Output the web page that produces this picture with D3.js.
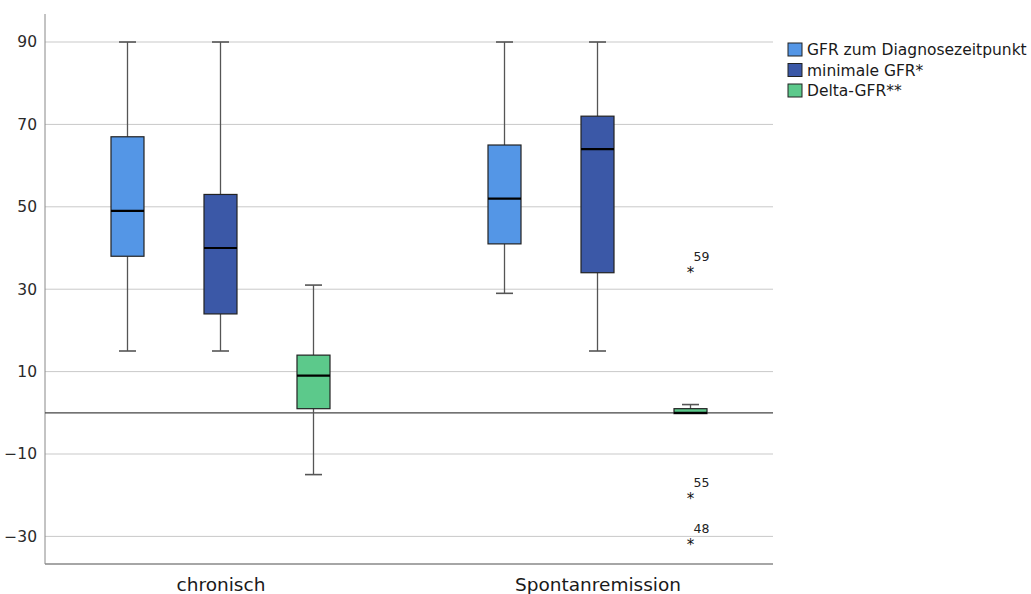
<!DOCTYPE html>
<html>
<head>
<meta charset="utf-8">
<script src="https://cdn.jsdelivr.net/npm/d3@7"></script>
<style>
  body { margin: 0; background: #fff; }
  text { font-family: "DejaVu Sans", sans-serif; }
</style>
</head>
<body>
<div class="container"></div>
<script>
const categories = ["chronisch", "Spontanremission"];
const series = ["GFR zum Diagnosezeitpunkt", "minimale GFR*", "Delta-GFR**"];
const colors = ["#5496e6", "#3b58a7", "#5cc98b"];

// one value per box, order: chronisch x series, then Spontanremission x series
const lowWhisker = [15, 15, -15, 29, 15, -0.2];
const q1 = [38, 24, 1, 41, 34, -0.2];
const median = [49, 40, 9, 52, 64, 0];
const q3 = [67, 53, 14, 65, 72, 1];
const highWhisker = [90, 90, 31, 90, 90, 2];

const outlierValues = [35, -20, -31];
const outlierIds = ["59", "55", "48"];
const outlierCategory = ["Spontanremission", "Spontanremission", "Spontanremission"];
const outlierSeries = ["Delta-GFR**", "Delta-GFR**", "Delta-GFR**"];

const yTicks = [-30, -10, 10, 30, 50, 70, 90];

const w = 1031;
const h = 594;
const plotLeft = 45, plotRight = 773, plotTop = 14, plotBottom = 564;

const svg = d3.select(".container")
  .append("svg")
  .attr("width", w)
  .attr("height", h);

const yScale = d3.scaleLinear()
  .domain([-36.7, 96.8])
  .range([plotBottom, plotTop]);

const xScale = d3.scalePoint()
  .domain(categories)
  .range([plotLeft, plotRight])
  .padding(0.4655);

const offset = d3.scaleBand()
  .domain(series)
  .range([-139.5, 139.5]);

const boxW = 33;
const capW = 17;

// gridlines
svg.append("g")
  .selectAll("line")
  .data(yTicks)
  .join("line")
  .attr("x1", plotLeft).attr("x2", plotRight)
  .attr("y1", d => yScale(d)).attr("y2", d => yScale(d))
  .attr("stroke", "#c9c9c9")
  .attr("stroke-width", 1);

// y axis
const yAxis = d3.axisLeft(yScale)
  .tickValues(yTicks)
  .tickSize(0)
  .tickPadding(8)
  .tickFormat(d => d < 0 ? "\u2212" + Math.abs(d) : d);

const gy = svg.append("g")
  .attr("transform", "translate(" + plotLeft + ",0)")
  .call(yAxis);
gy.select(".domain").remove();
gy.selectAll("text")
  .attr("font-size", 15.5)
  .attr("fill", "#2a2a2a")
  .style("font-family", "DejaVu Sans, sans-serif");

svg.append("line")
  .attr("x1", plotLeft).attr("x2", plotLeft)
  .attr("y1", plotTop).attr("y2", plotBottom)
  .attr("stroke", "#888");

// x axis
const xAxis = d3.axisBottom(xScale).tickSize(0).tickPadding(14);
const gx = svg.append("g")
  .attr("transform", "translate(0," + plotBottom + ")")
  .call(xAxis);
gx.select(".domain")
  .attr("d", "M" + plotLeft + ",0H" + plotRight)
  .attr("stroke", "#888")
  .attr("stroke-width", 1.5);
gx.selectAll("text")
  .attr("font-size", 18.5)
  .attr("fill", "#1a1a1a")
  .style("font-family", "DejaVu Sans, sans-serif");

// zero line
svg.append("line")
  .attr("x1", plotLeft).attr("x2", plotRight)
  .attr("y1", yScale(0)).attr("y2", yScale(0))
  .attr("stroke", "#444")
  .attr("stroke-width", 1.2);

// boxes
const boxes = [];
categories.forEach((c, ci) => {
  series.forEach((s, si) => {
    const i = ci * series.length + si;
    boxes.push({
      cx: xScale(c) + offset(s) + offset.bandwidth() / 2,
      color: colors[si],
      lo: lowWhisker[i], q1: q1[i], med: median[i], q3: q3[i], hi: highWhisker[i]
    });
  });
});

const g = svg.append("g").selectAll("g")
  .data(boxes)
  .join("g");

g.append("line")
  .attr("x1", d => d.cx).attr("x2", d => d.cx)
  .attr("y1", d => yScale(d.hi)).attr("y2", d => yScale(d.q3))
  .attr("stroke", "#555").attr("stroke-width", 1.3);
g.append("line")
  .attr("x1", d => d.cx).attr("x2", d => d.cx)
  .attr("y1", d => yScale(d.q1)).attr("y2", d => yScale(d.lo))
  .attr("stroke", "#555").attr("stroke-width", 1.3);
g.append("line")
  .attr("x1", d => d.cx - capW / 2).attr("x2", d => d.cx + capW / 2)
  .attr("y1", d => yScale(d.hi)).attr("y2", d => yScale(d.hi))
  .attr("stroke", "#555").attr("stroke-width", 1.6);
g.filter(d => d.lo < d.q1).append("line")
  .attr("x1", d => d.cx - capW / 2).attr("x2", d => d.cx + capW / 2)
  .attr("y1", d => yScale(d.lo)).attr("y2", d => yScale(d.lo))
  .attr("stroke", "#555").attr("stroke-width", 1.6);
g.append("rect")
  .attr("x", d => d.cx - boxW / 2)
  .attr("width", boxW)
  .attr("y", d => yScale(d.q3))
  .attr("height", d => yScale(d.q1) - yScale(d.q3))
  .attr("fill", d => d.color)
  .attr("stroke", "#222")
  .attr("stroke-width", 1.2);
g.append("line")
  .attr("x1", d => d.cx - boxW / 2).attr("x2", d => d.cx + boxW / 2)
  .attr("y1", d => yScale(d.med)).attr("y2", d => yScale(d.med))
  .attr("stroke", "#000").attr("stroke-width", 2.2);

// outliers
const outliers = outlierValues.map((v, i) => ({
  v: v, id: outlierIds[i],
  cx: xScale(outlierCategory[i]) + offset(outlierSeries[i]) + offset.bandwidth() / 2
}));
const og = svg.append("g").selectAll("g")
  .data(outliers)
  .join("g");
og.append("text")
  .attr("x", d => d.cx)
  .attr("y", d => yScale(d.v) + 9)
  .attr("text-anchor", "middle")
  .attr("font-size", 15)
  .attr("fill", "#111")
  .text("*");
og.append("text")
  .attr("x", d => d.cx + 3)
  .attr("y", d => yScale(d.v) - 8)
  .attr("font-size", 12.5)
  .attr("fill", "#222")
  .text(d => d.id);

// legend
const legend = svg.append("g")
  .attr("transform", "translate(788,43)")
  .selectAll("g")
  .data(series)
  .join("g")
  .attr("transform", (d, i) => "translate(0," + i * 20.5 + ")");
legend.append("rect")
  .attr("width", 14).attr("height", 13)
  .attr("fill", (d, i) => colors[i])
  .attr("stroke", "#222");
legend.append("text")
  .attr("x", 19)
  .attr("y", 12)
  .attr("font-size", 15.5)
  .attr("fill", "#1a1a1a")
  .text(d => d);
</script>
</body>
</html>
